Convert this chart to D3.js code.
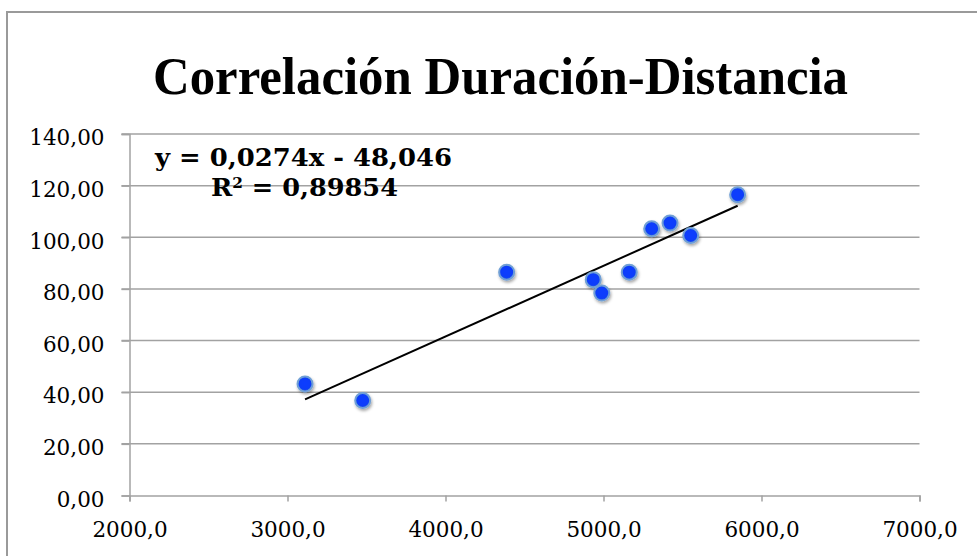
<!DOCTYPE html>
<html>
<head>
<meta charset="utf-8">
<script src="https://cdn.jsdelivr.net/npm/d3@7"></script>
<style>
  html, body { margin: 0; padding: 0; background: #fff; }
  svg { display: block; }
</style>
</head>
<body>
<svg id="chart" width="977" height="556"></svg>
<script>
// Datos: distancia (x) vs duración (y)
const distancia = [3111, 3476, 4387, 4935, 4989, 5163, 5305, 5421, 5552, 5849];
const duracion  = [43.2, 36.8, 86.5, 83.6, 78.4, 86.5, 103.3, 105.5, 100.7, 116.5];

const xTicks = [2000, 3000, 4000, 5000, 6000, 7000];
const yTicks = [0, 20, 40, 60, 80, 100, 120, 140];

// Línea de tendencia (del texto de la gráfica)
const pendiente = 0.0274;
const intercepto = -48.046;
const ecuacion = 'y = 0,0274x - 48,046';
const r2Texto = ' = 0,89854';
const titulo = 'Correlación Duración-Distancia';

const svg = d3.select('#chart');
const margin = { top: 134, right: 57.5, bottom: 60.5, left: 129.5 };
const width = +svg.attr('width');
const height = +svg.attr('height');

const fmtX = v => d3.format('.1f')(v).replace('.', ',');
const fmtY = v => d3.format('.2f')(v).replace('.', ',');

const xScale = d3.scaleLinear()
    .domain([2000, 7000])
    .range([margin.left, width - margin.right]);

const yScale = d3.scaleLinear()
    .domain([0, 140])
    .range([height - margin.bottom, margin.top]);

// sombra de los puntos
const defs = svg.append('defs');
const f = defs.append('filter')
    .attr('id', 'sombra')
    .attr('x', '-50%').attr('y', '-50%')
    .attr('width', '200%').attr('height', '200%');
f.append('feDropShadow')
    .attr('dx', 1).attr('dy', 2)
    .attr('stdDeviation', 1.6)
    .attr('flood-color', '#000')
    .attr('flood-opacity', 0.35);

const grad = defs.append('radialGradient')
    .attr('id', 'relleno')
    .attr('cx', '50%').attr('cy', '45%').attr('r', '55%');
grad.append('stop').attr('offset', '0%').attr('stop-color', '#0a3dff');
grad.append('stop').attr('offset', '70%').attr('stop-color', '#0a3cfa');
grad.append('stop').attr('offset', '100%').attr('stop-color', '#2a5ae8');

// marco exterior
svg.append('rect')
    .attr('x', 7)
    .attr('y', 12)
    .attr('width', 1000)
    .attr('height', 600)
    .attr('fill', 'none')
    .attr('stroke', '#9a9a9a')
    .attr('stroke-width', 2);

// título
svg.append('text')
    .attr('x', 153)
    .attr('y', 94)
    .attr('textLength', 695)
    .attr('lengthAdjust', 'spacingAndGlyphs')
    .attr('font-family', '"Liberation Serif", serif')
    .attr('font-weight', 'bold')
    .attr('font-size', 53)
    .attr('fill', '#000')
    .text(titulo);

// cuadrícula horizontal
svg.append('g')
    .attr('class', 'grid')
    .selectAll('line')
    .data(yTicks.filter(d => d > 0))
    .join('line')
    .attr('x1', margin.left - 8)
    .attr('x2', xScale(7000))
    .attr('y1', d => yScale(d))
    .attr('y2', d => yScale(d))
    .attr('stroke', '#a2a2a2')
    .attr('stroke-width', 1.5);

// eje Y
const yAxis = d3.axisLeft(yScale).tickValues(yTicks).tickFormat(fmtY).tickSize(8).tickPadding(17);
const gy = svg.append('g')
    .attr('transform', `translate(${margin.left},0)`)
    .call(yAxis);
gy.select('.domain').attr('stroke', '#a2a2a2').attr('stroke-width', 1.5);
gy.selectAll('.tick line').attr('stroke', '#a2a2a2').attr('stroke-width', 1.5);
gy.selectAll('.tick text')
    .attr('font-family', '"DejaVu Serif", serif')
    .attr('font-size', 21.5)
    .attr('fill', '#000')
    .attr('dy', '0.5em');

// eje X
const xAxis = d3.axisBottom(xScale).tickValues(xTicks).tickFormat(fmtX).tickSize(6).tickPadding(20);
const gx = svg.append('g')
    .attr('transform', `translate(0,${yScale(0)})`)
    .call(xAxis);
gx.select('.domain').attr('stroke', '#a2a2a2').attr('stroke-width', 1.5);
gx.selectAll('.tick line').attr('stroke', '#a2a2a2').attr('stroke-width', 1.5);
gx.selectAll('.tick text')
    .attr('font-family', '"DejaVu Serif", serif')
    .attr('font-size', 21.5)
    .attr('fill', '#000');

// línea de tendencia
const xMin = d3.min(distancia);
const xMax = d3.max(distancia);
const tendencia = [xMin, xMax].map(x => ({ x, y: pendiente * x + intercepto }));
svg.append('path')
    .datum(tendencia)
    .attr('fill', 'none')
    .attr('stroke', '#000')
    .attr('stroke-width', 2)
    .attr('d', d3.line().x(d => xScale(d.x)).y(d => yScale(d.y)));

// puntos
svg.append('g')
    .selectAll('circle')
    .data(distancia.map((x, i) => ({ x, y: duracion[i] })))
    .join('circle')
    .attr('cx', d => xScale(d.x))
    .attr('cy', d => yScale(d.y))
    .attr('r', 7.5)
    .attr('fill', 'url(#relleno)')
    .attr('stroke', '#6f9fd6')
    .attr('stroke-width', 2)
    .attr('filter', 'url(#sombra)');

// ecuación y R²
const eq = svg.append('g')
    .attr('font-family', '"DejaVu Serif", serif')
    .attr('font-weight', 'bold')
    .attr('fill', '#000');
eq.append('text')
    .attr('x', 155)
    .attr('y', 166)
    .attr('font-size', 25)
    .attr('textLength', 297)
    .attr('lengthAdjust', 'spacingAndGlyphs')
    .text(ecuacion);
const r2 = eq.append('text')
    .attr('x', 211)
    .attr('y', 196)
    .attr('font-size', 25)
    .attr('textLength', 187)
    .attr('lengthAdjust', 'spacingAndGlyphs');
r2.append('tspan').text('R');
r2.append('tspan').attr('font-size', 15).attr('dy', -8).text('2');
r2.append('tspan').attr('dy', 8).text(r2Texto);
</script>
</body>
</html>
